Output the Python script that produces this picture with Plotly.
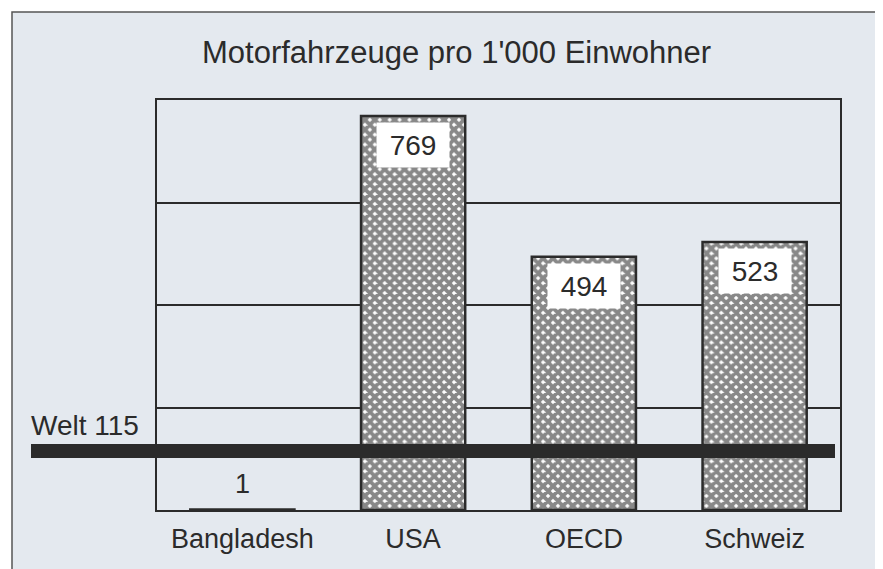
import plotly.graph_objects as go

# data
laender = ["Bangladesh", "USA", "OECD", "Schweiz"]
fahrzeuge = [1, 769, 494, 523]
welt_wert = 115
welt_label = "Welt 115"
titel = "Motorfahrzeuge pro 1'000 Einwohner"

# the page body adds an 8px margin, so the figure is drawn 8px smaller
W, H = 875, 561
L, R, T, B = 149, 832, 92, 502   # plot area in pixels
schrift = "Liberation Sans, Arial, Helvetica, sans-serif"
dunkel = "#2b2b2b"


def px_x(p):
    return (p - L) / (R - L)


def px_y(p):
    return (B - p) / (B - T)


fig = go.Figure()
fig.add_trace(go.Bar(
    x=laender, y=fahrzeuge, width=0.61,
    marker=dict(
        color="white",
        line=dict(color=dunkel, width=2.5),
        pattern=dict(shape="x", fgcolor="#111111", bgcolor="white", size=7, solidity=0.8),
    ),
    hoverinfo="skip",
))

# value labels: white box inside the tall bars, plain text above the tiny one
for land, wert in zip(laender, fahrzeuge):
    if wert > 100:
        fig.add_annotation(x=land, y=wert, text=str(wert), showarrow=False,
                           yanchor="middle", yshift=-29, width=70, height=42,
                           bgcolor="white", font=dict(size=28, color=dunkel, family=schrift))
    else:
        fig.add_annotation(x=land, y=wert, text=str(wert), showarrow=False,
                           yanchor="middle", yshift=25,
                           font=dict(size=27, color=dunkel, family=schrift))

# world average bar across the chart
fig.add_shape(type="line", xref="paper", yref="y", x0=px_x(23), x1=px_x(827),
              y0=welt_wert, y1=welt_wert, line=dict(color=dunkel, width=14), layer="above")
fig.add_annotation(xref="paper", yref="y", x=px_x(21), y=welt_wert, text=welt_label,
                   showarrow=False, xanchor="left", yanchor="bottom", yshift=8,
                   font=dict(size=28, color=dunkel, family=schrift))

# outer frame of the figure, tinted like the scanned page
fig.add_shape(type="rect", xref="paper", yref="paper", x0=px_x(4), x1=px_x(871),
              y0=px_y(620), y1=px_y(4), fillcolor="#e4e9ef",
              line=dict(color="#555555", width=1.5), layer="below")

fig.add_annotation(xref="paper", yref="paper", x=px_x(448), y=px_y(45), text=titel,
                   showarrow=False, xanchor="center", yanchor="middle",
                   font=dict(size=31, color=dunkel, family=schrift))

fig.update_layout(
    width=W, height=H,
    margin=dict(l=L, r=W - R, t=T, b=H - B),
    paper_bgcolor="white", plot_bgcolor="white",
    showlegend=False,
    font=dict(family=schrift, color=dunkel),
)
fig.update_xaxes(type="category", range=[-0.5, 3.5], showline=True, mirror=True,
                 linecolor=dunkel, linewidth=2, showgrid=False, ticks="",
                 tickfont=dict(size=27, color=dunkel, family=schrift), ticklabelstandoff=4)
fig.update_yaxes(range=[0, 800], dtick=200, showline=True, mirror=True,
                 linecolor=dunkel, linewidth=2, showgrid=True, gridcolor=dunkel,
                 gridwidth=1.5, showticklabels=False, ticks="", zeroline=False)

fig.write_html("out.html")
